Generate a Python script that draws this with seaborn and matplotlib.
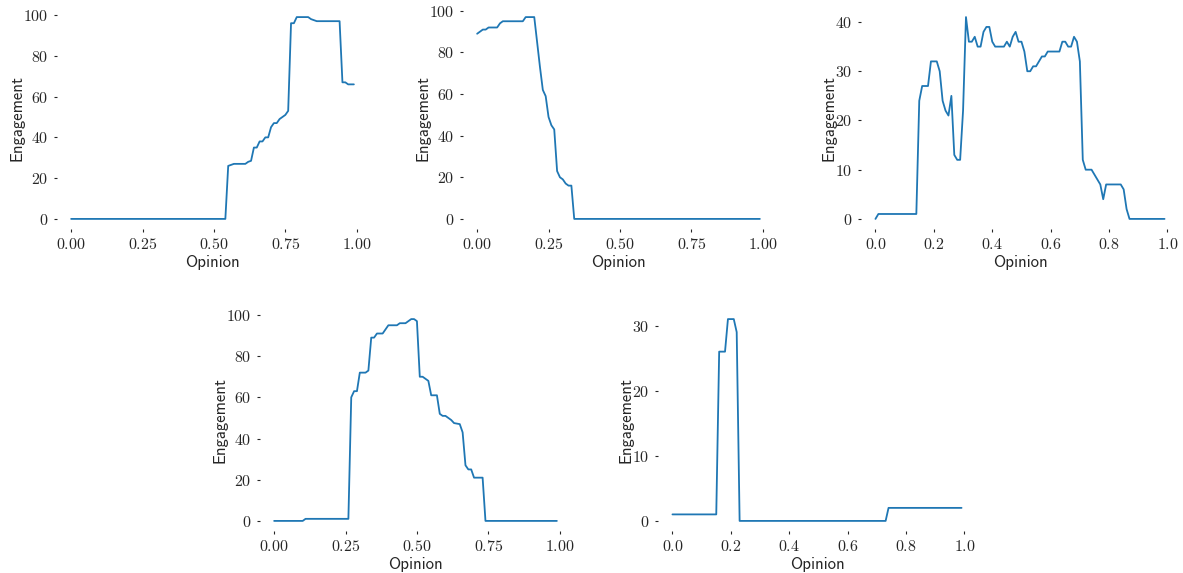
import numpy as np
import pandas as pd
import matplotlib
matplotlib.use("Agg")
import matplotlib.pyplot as plt
import matplotlib.ticker as mticker
import seaborn as sns

# Opinion / engagement curves (one pair per panel)
opinion_1 = [0.00, 0.54, 0.55, 0.56, 0.57, 0.61, 0.62, 0.63, 0.64, 0.65, 0.66, 0.67, 0.68,
             0.69, 0.70, 0.71, 0.72, 0.73, 0.74, 0.75, 0.76, 0.77, 0.78, 0.79, 0.83, 0.84,
             0.85, 0.86, 0.94, 0.95, 0.96, 0.97, 0.99]
engagement_1 = [0, 0, 26, 26.5, 27, 27, 28, 28.5, 35, 35, 38, 38, 40,
                40, 45, 47, 47, 49, 50, 51, 53, 96, 96, 99, 99, 98,
                97.5, 97, 97, 67, 67, 66, 66]

opinion_2 = [0.00, 0.01, 0.02, 0.03, 0.04, 0.07, 0.08, 0.09, 0.16, 0.17, 0.20, 0.21, 0.22,
             0.23, 0.24, 0.25, 0.26, 0.27, 0.28, 0.29, 0.30, 0.31, 0.32, 0.33, 0.34, 0.99]
engagement_2 = [89, 90, 91, 91, 92, 92, 94, 95, 95, 97, 97, 85, 73,
                62, 59, 49, 45, 43, 23, 20, 19, 17, 16, 16, 0, 0]

opinion_3 = [0.00, 0.01, 0.14, 0.15, 0.16, 0.18, 0.19, 0.21, 0.22, 0.23, 0.24, 0.25, 0.26,
             0.27, 0.28, 0.29, 0.30, 0.31, 0.32, 0.33, 0.34, 0.35, 0.36, 0.37, 0.38, 0.39,
             0.40, 0.41, 0.44, 0.45, 0.46, 0.47, 0.48, 0.49, 0.50, 0.51, 0.52, 0.53, 0.54,
             0.55, 0.56, 0.57, 0.58, 0.59, 0.63, 0.64, 0.65, 0.66, 0.67, 0.68, 0.69, 0.70,
             0.71, 0.72, 0.74, 0.75, 0.76, 0.77, 0.78, 0.79, 0.84, 0.85, 0.86, 0.87, 0.99]
engagement_3 = [0, 1, 1, 24, 27, 27, 32, 32, 30, 24, 22, 21, 25,
                13, 12, 12, 22, 41, 36, 36, 37, 35, 35, 38, 39, 39,
                36, 35, 35, 36, 35, 37, 38, 36, 36, 34, 30, 30, 31,
                31, 32, 33, 33, 34, 34, 36, 36, 35, 35, 37, 36, 32,
                12, 10, 10, 9, 8, 7, 4, 7, 7, 6, 2, 0, 0]

opinion_4 = [0.00, 0.10, 0.11, 0.26, 0.27, 0.28, 0.29, 0.30, 0.32, 0.33, 0.34, 0.35, 0.36,
             0.38, 0.40, 0.43, 0.44, 0.46, 0.48, 0.49, 0.50, 0.51, 0.52, 0.53, 0.54, 0.55,
             0.57, 0.58, 0.59, 0.60, 0.61, 0.62, 0.63, 0.65, 0.66, 0.67, 0.68, 0.69, 0.70,
             0.73, 0.74, 0.99]
engagement_4 = [0, 0, 1, 1, 60, 63, 63, 72, 72, 73, 89, 89, 91,
                91, 95, 95, 96, 96, 98, 98, 97, 70, 70, 69, 68, 61,
                61, 52, 51, 51, 50, 49, 47.5, 47, 43, 27, 25, 25, 21,
                21, 0, 0]

opinion_5 = [0.00, 0.15, 0.16, 0.18, 0.19, 0.21, 0.22, 0.23, 0.73, 0.74, 0.99]
engagement_5 = [1, 1, 26, 26, 31, 31, 29, 0, 0, 2, 2]

# x tick step and label format per panel
panels = [
    (opinion_1, engagement_1, 0.25, "${x:.2f}$"),
    (opinion_2, engagement_2, 0.25, "${x:.2f}$"),
    (opinion_3, engagement_3, 0.2, "${x:.1f}$"),
    (opinion_4, engagement_4, 0.25, "${x:.2f}$"),
    (opinion_5, engagement_5, 0.2, "${x:.1f}$"),
]

sns.set_style("ticks")
plt.rcParams["mathtext.fontset"] = "cm"
plt.rcParams["xtick.major.size"] = 2.5
plt.rcParams["ytick.major.size"] = 2.5
plt.rcParams["xtick.major.width"] = 0.8
plt.rcParams["ytick.major.width"] = 0.8

W, H = 1183, 573
# axes boxes in pixels: left, top, width, height
boxes = [
    (57, 7, 311, 222),
    (463, 7, 311, 222),
    (861, 7, 318, 222),
    (260, 309, 311, 222),
    (658, 309, 318, 222),
]

fig = plt.figure(figsize=(W / 100, H / 100), dpi=100)

for (x, y, step, fmt), (l, t, w, h) in zip(panels, boxes):
    ax = fig.add_axes([l / W, 1 - (t + h) / H, w / W, h / H])
    df = pd.DataFrame({"Opinion": x, "Engagement": y})
    sns.lineplot(data=df, x="Opinion", y="Engagement", ax=ax, color="#1f77b4", linewidth=1.3)
    ax.xaxis.set_major_locator(mticker.MultipleLocator(step))
    ax.xaxis.set_major_formatter(mticker.StrMethodFormatter(fmt))
    ax.yaxis.set_major_formatter(mticker.StrMethodFormatter("${x:.0f}$"))
    ax.tick_params(labelsize=11.5, colors=".15")
    ax.set_xlabel("Opinion", fontfamily="cmss10", fontsize=12, labelpad=2)
    ax.set_ylabel("Engagement", fontfamily="cmss10", fontsize=12, labelpad=-1)
    sns.despine(ax=ax, left=True, bottom=True)

fig.savefig("out.png", dpi=100)
